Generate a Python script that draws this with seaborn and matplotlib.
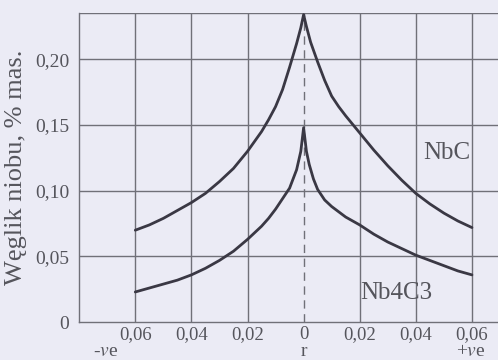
import matplotlib
matplotlib.use('Agg')
import matplotlib.pyplot as plt
import matplotlib.transforms as mtransforms
import pandas as pd
import seaborn as sns

nbc_x = [-0.06, -0.055, -0.05, -0.045, -0.04, -0.035, -0.03, -0.025, -0.02, -0.015,
         -0.0125, -0.01, -0.0075, -0.005, -0.0025, -0.001, 0.0,
         0.001, 0.0025, 0.005, 0.0075, 0.01, 0.0125, 0.015, 0.02, 0.025,
         0.03, 0.035, 0.04, 0.045, 0.05, 0.055, 0.06]
nbc_y = [0.070, 0.074, 0.079, 0.085, 0.091, 0.098, 0.107, 0.117, 0.130, 0.145,
         0.154, 0.164, 0.177, 0.194, 0.212, 0.224, 0.234,
         0.225, 0.213, 0.198, 0.184, 0.172, 0.164, 0.157, 0.144, 0.131,
         0.119, 0.108, 0.098, 0.090, 0.083, 0.077, 0.072]

nb4c3_x = [-0.06, -0.055, -0.05, -0.045, -0.04, -0.035, -0.03, -0.025, -0.02, -0.015,
           -0.0125, -0.01, -0.0075, -0.005, -0.0025, -0.001, 0.0,
           0.001, 0.002, 0.0035, 0.005, 0.0075, 0.01, 0.0125, 0.015, 0.02, 0.025,
           0.03, 0.035, 0.04, 0.045, 0.05, 0.055, 0.06]
nb4c3_y = [0.023, 0.026, 0.029, 0.032, 0.036, 0.041, 0.047, 0.054, 0.063, 0.073,
           0.079, 0.086, 0.094, 0.102, 0.116, 0.130, 0.148,
           0.130, 0.120, 0.109, 0.101, 0.093, 0.088, 0.084, 0.080, 0.074, 0.067,
           0.061, 0.056, 0.051, 0.047, 0.043, 0.039, 0.036]

xticks = [-0.06, -0.04, -0.02, 0.0, 0.02, 0.04, 0.06]
xticklabels = ['0,06', '0,04', '0,02', '0', '0,02', '0,04', '0,06']
yticks = [0, 0.05, 0.10, 0.15, 0.20]
yticklabels = ['0', '0,05', '0,10', '0,15', '0,20']

df = pd.concat([
    pd.DataFrame({'x': nbc_x, 'y': nbc_y, 'faza': 'NbC'}),
    pd.DataFrame({'x': nb4c3_x, 'y': nb4c3_y, 'faza': 'Nb4C3'}),
])

sns.set_style('white')
plt.rcParams['font.family'] = ['Liberation Serif', 'DejaVu Serif']
plt.rcParams['mathtext.fontset'] = 'stix'

bg = '#ebebf5'
txt = '#55555c'
grid = '#707078'
fig = plt.figure(figsize=(4.98, 3.60), dpi=100, facecolor=bg)
ax = fig.add_axes([0.159, 0.105, 0.845, 0.858], facecolor=bg)

for xv in xticks:
    if xv == 0:
        ax.axvline(xv, color=grid, lw=1.0, ls=(0, (6, 4)), zorder=1)
    else:
        ax.axvline(xv, color=grid, lw=1.0, zorder=1)
for yv in yticks[1:] + [0.235]:
    ax.axhline(yv, color=grid, lw=1.0, zorder=1)

sns.lineplot(data=df, x='x', y='y', hue='faza', palette=['#3a3844', '#3a3844'],
             estimator=None, sort=True, lw=2.0, legend=False, ax=ax, zorder=3)
for line in ax.lines:
    line.set_solid_joinstyle('round')

ax.set_xlim(-0.08, 0.07)
ax.set_ylim(0, 0.235)
ax.set_xticks(xticks)
ax.set_xticklabels(xticklabels)
ax.set_yticks(yticks)
ax.set_yticklabels(yticklabels)
ax.tick_params(axis='x', length=0, pad=3, labelsize=13.5, labelcolor=txt)
ax.tick_params(axis='y', length=4, width=1, color=grid, pad=3, labelsize=14,
               labelcolor=txt)
ax.set_xlabel('')
ax.set_ylabel('Węglik niobu, % mas.', fontsize=19, color=txt, labelpad=6)

for side in ['top', 'right']:
    ax.spines[side].set_visible(False)
for side in ['left', 'bottom']:
    ax.spines[side].set_color(grid)
    ax.spines[side].set_linewidth(1.0)

trans = mtransforms.blended_transform_factory(ax.transData, ax.transAxes)
ax.text(-0.0705, -0.096, '-$\\mathit{v}$e', transform=trans, ha='center', va='center',
        fontsize=14, color=txt)
ax.text(0.0, -0.096, 'r', transform=trans, ha='center', va='center',
        fontsize=14, color=txt)
ax.text(0.0597, -0.096, '+$\\mathit{v}$e', transform=trans, ha='center', va='center',
        fontsize=14, color=txt)

ax.text(0.051, 0.129, 'NbC', ha='center', va='center', fontsize=18, color=txt)
ax.text(0.0332, 0.022, 'Nb4C3', ha='center', va='center', fontsize=18, color=txt)

fig.savefig('out.png', dpi=100, facecolor=bg)
